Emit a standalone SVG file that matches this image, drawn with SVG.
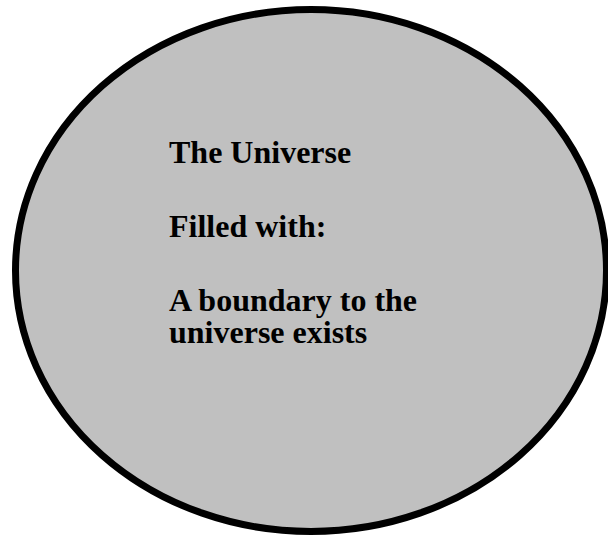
<svg xmlns="http://www.w3.org/2000/svg" width="608" height="536" viewBox="0 0 608 536">
<style>
.t{font-family:"Liberation Serif","Times New Roman",serif;font-weight:bold;font-size:32px;fill:#000}
</style>
<rect width="608" height="536" fill="#fff"/>
<g id="universe">
<ellipse cx="311" cy="270.5" rx="295.5" ry="261" fill="#c0c0c0" stroke="#000" stroke-width="7"/>
<text class="t" x="169" y="163">The Universe</text>
<text class="t" x="169" y="237">Filled with:</text>
<text class="t" x="169" y="311">A boundary to the<tspan x="169" y="343">universe exists</tspan></text>
</g>
</svg>
